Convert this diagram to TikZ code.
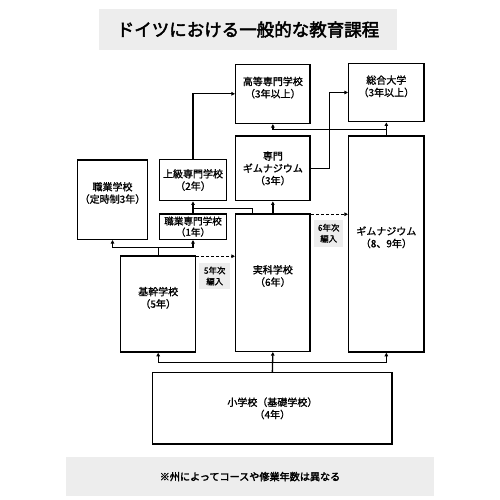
\documentclass[tikz,border=0pt]{standalone}
\usepackage{fontspec}
\setmainfont{Noto Sans CJK JP}
\newfontfamily\jpm{Noto Sans CJK JP}[FakeBold=1.2]
\newfontfamily\jpb{Noto Sans CJK JP}[FakeBold=2.5]
\usetikzlibrary{arrows.meta}
\begin{document}
\begin{tikzpicture}[x=1pt,y=-1pt,
  schoolbox/.style={draw=black, line width=1.5pt, fill=white, align=center, inner sep=0pt,
    font=\jpm\fontsize{10}{12.3}\selectfont},
  graybox/.style={fill=black!7, draw=none, align=center, inner sep=0pt},
  conn/.style={line width=1.3pt},
  arr/.style={conn, -{Triangle[length=3.5pt,width=3.5pt]}},
  dasharr/.style={arr, dash pattern=on 3pt off 2pt}]
\useasboundingbox[fill=white] (0,0) rectangle (500,500);

% title and footer
\node[graybox, minimum width=298pt, minimum height=41pt, font=\jpb\fontsize{17.5}{20}\selectfont] (title) at (248,29.5) {ドイツにおける一般的な教育課程};
\node[graybox, minimum width=368pt, minimum height=38.7pt, font=\jpb\fontsize{10.1}{12}\selectfont] (note) at (250,476.6) {※州によってコースや修業年数は異なる};

% boxes
\node[schoolbox, minimum width=74.3pt, minimum height=59pt] (koutou) at (272.85,93.8) {高等専門学校\\（3年以上）\\[1pt]};
\node[schoolbox, minimum width=75.3pt, minimum height=58.4pt] (sougou) at (386.35,92.5) {総合大学\\（3年以上）\\[1pt]};
\node[schoolbox, minimum width=74.3pt, minimum height=64.7pt] (senmongym) at (272.85,168.35) {専門\\ギムナジウム\\（3年）};
\node[schoolbox, minimum width=75.3pt, minimum height=216pt] (gym) at (386.35,244) {ギムナジウム\\（8、9年）\\[2pt]};
\node[schoolbox, minimum width=70.4pt, minimum height=79.3pt] (shokugyou) at (112.5,199.65) {職業学校\\（定時制3年）\\[2pt]};
\node[schoolbox, minimum width=67.4pt, minimum height=41.4pt] (joukyu) at (193,180) {上級専門学校\\（2年）};
\node[schoolbox, minimum width=67.4pt, minimum height=25.3pt, font=\jpm\fontsize{9.6}{11}\selectfont] (shokusen) at (193,226.65) {職業専門学校\\（1年）};
\node[schoolbox, minimum width=74.3pt, minimum height=137.3pt] (jikka) at (272.85,282.65) {実科学校\\（6年）\\[2pt]};
\node[schoolbox, minimum width=75pt, minimum height=96pt] (kikan) at (158.2,304) {基幹学校\\（5年）\\[1pt]};
\node[schoolbox, minimum width=239.3pt, minimum height=71.3pt] (shou) at (272.35,408.35) {小学校（基礎学校）\\（4年）};

% transfer labels
\node[graybox, minimum width=30.7pt, minimum height=26.6pt, font=\jpm\fontsize{8.4}{11}\selectfont] (lab5) at (214.7,276) {5年次\\編入};
\node[graybox, minimum width=29.3pt, minimum height=27pt, font=\jpm\fontsize{8.4}{11}\selectfont] (lab6) at (328.7,233.2) {6年次\\編入};

% bus coordinates
\coordinate (b1) at (0,362.7);
\coordinate (b2) at (0,247.7);
\coordinate (b3) at (0,208.5);
\coordinate (b4) at (0,129.7);
\coordinate (jx) at (252.2,0);
\coordinate (sx) at (329.3,0);

% primary school
\draw[arr] (shou.north) -- (jikka.south);
\draw[conn] (kikan.south |- b1) -- (gym.south |- b1);
\draw[arr] (kikan.south |- b1) -- (kikan.south);
\draw[arr] (gym.south |- b1) -- (gym.south);

% Hauptschule
\draw[conn] (kikan.north) -- (kikan.north |- b2);
\draw[conn] (shokugyou.south |- b2) -- (shokusen.south |- b2);
\draw[arr] (shokugyou.south |- b2) -- (shokugyou.south);
\draw[arr] (shokusen.south |- b2) -- (shokusen.south);
\draw[dasharr] ([yshift=-1pt]kikan.north east) -- ([yshift=-1pt]kikan.north east -| jikka.west);

% Realschule
\draw[arr] (shokusen.north) -- (joukyu.south);
\draw[conn] (jx |- jikka.north) -- (jx |- b3) -- (shokusen.north |- b3);
\draw[arr] (jikka.north) -- (senmongym.south);
\draw[dasharr] ([yshift=-1pt]jikka.north east) -- ([yshift=-1pt]jikka.north east -| gym.west);

% upper
\draw[arr] (joukyu.north) |- (koutou.west);
\draw[arr] (senmongym.east) -- (sx |- senmongym.east) |- (sougou.west);
\draw[arr] (gym.north) -- (sougou.south);
\draw[arr] (gym.north |- b4) -| (koutou.south);
\end{tikzpicture}
\end{document}
